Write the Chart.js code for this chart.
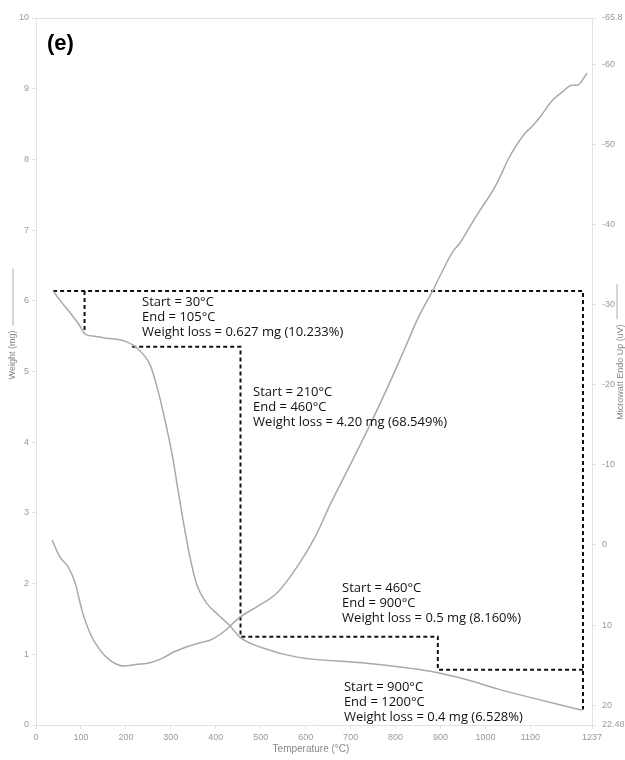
<!DOCTYPE html>
<html>
<head>
<meta charset="utf-8">
<script src="https://cdn.jsdelivr.net/npm/chart.js@4.4.1/dist/chart.umd.min.js"></script>
<style>
  body { margin: 0; background: #fff; }
  #wrap { width: 625px; height: 760px; position: relative; }
</style>
</head>
<body>
<div id="wrap"><canvas id="myChart"></canvas></div>
<script>
// TGA weight curve (left axis, mg)
const tempWeight = [38, 53, 76, 98, 109, 131, 158, 187, 202, 225, 254, 271, 287, 303, 316, 329, 343, 358, 380, 405, 432, 454, 505, 581, 727, 877, 959, 1032, 1106, 1215];
const weightMg   = [6.14, 6.01, 5.83, 5.64, 5.53, 5.50, 5.47, 5.45, 5.42, 5.33, 5.09, 4.74, 4.31, 3.82, 3.32, 2.83, 2.36, 1.98, 1.72, 1.56, 1.40, 1.24, 1.09, 0.96, 0.88, 0.76, 0.64, 0.50, 0.38, 0.21];

// DSC curve (right axis, uV, reversed)
const tempDsc = [36, 53, 71, 87, 102, 120, 142, 165, 194, 225, 254, 283, 305, 336, 365, 387, 416, 454, 492, 536, 587, 621, 654, 699, 743, 788, 821, 848, 883, 926, 943, 970, 988, 1017, 1037, 1050, 1088, 1106, 1121, 1150, 1172, 1192, 1204, 1226];
const dscUv   = [-0.6, 1.5, 2.7, 4.7, 8.1, 11.0, 13.1, 14.4, 15.1, 14.9, 14.7, 14.1, 13.4, 12.7, 12.2, 11.9, 10.9, 9.0, 7.7, 6.0, 2.2, -1.0, -5.0, -10.0, -15.0, -20.4, -24.6, -28.1, -31.8, -36.5, -37.7, -40.2, -41.8, -44.3, -46.5, -48.1, -51.4, -52.4, -53.4, -55.6, -56.6, -57.4, -57.4, -58.9];

// dashed step markers (temperature, weight)
const boxTemps = [38, 1217, 1217];
const boxWeights = [6.14, 6.14, 0.22];
const firstStepTemps = [108, 108];
const firstStepWeights = [6.14, 5.54];
const stairTemps = [214, 455, 455, 894, 894, 1217];
const stairWeights = [5.35, 5.35, 1.25, 1.25, 0.78, 0.78];

// annotation blocks, anchored at (temperature, weight)
const noteTemps = [236, 483, 681, 685];
const noteWeights = [5.98, 4.71, 1.94, 0.54];
const noteTexts = [
  ['Start = 30°C', 'End = 105°C', 'Weight loss = 0.627 mg (10.233%)'],
  ['Start = 210°C', 'End = 460°C', 'Weight loss = 4.20 mg (68.549%)'],
  ['Start = 460°C', 'End = 900°C', 'Weight loss = 0.5 mg (8.160%)'],
  ['Start = 900°C', 'End = 1200°C', 'Weight loss = 0.4 mg (6.528%)']
];

// axis ticks
const tempTicks = [0, 100, 200, 300, 400, 500, 600, 700, 800, 900, 1000, 1100, 1237];
const weightTicks = [0, 1, 2, 3, 4, 5, 6, 7, 8, 9, 10];
const dscTicks = [-65.8, -60, -50, -40, -30, -20, -10, 0, 10, 20, 22.48];

function pts(xs, ys) {
  return xs.map((x, i) => ({ x: x, y: ys[i] }));
}

const curveColor = '#a9a9a9';
const tickColor = '#999';
const axisColor = '#e2e2e2';

function dashed(xs, ys) {
  return {
    data: pts(xs, ys),
    yAxisID: 'y',
    borderColor: '#111',
    borderWidth: 2,
    borderDash: [4, 3],
    pointRadius: 0,
    fill: false,
    tension: 0
  };
}

const overlay = {
  id: 'overlay',
  afterDatasetsDraw(chart) {
    const ctx = chart.ctx;
    const xs = chart.scales.x, ys = chart.scales.y;
    ctx.save();
    ctx.fillStyle = '#111';
    ctx.font = '13px "Open Sans"';
    ctx.textBaseline = 'middle';
    ctx.textAlign = 'left';
    noteTexts.forEach((lines, i) => {
      const px = xs.getPixelForValue(noteTemps[i]);
      const py = ys.getPixelForValue(noteWeights[i]);
      lines.forEach((t, j) => ctx.fillText(t, px, py + j * 15));
    });
    ctx.restore();
  },
  afterDraw(chart) {
    const ctx = chart.ctx;
    const a = chart.chartArea;
    ctx.save();
    // top frame line
    ctx.strokeStyle = axisColor;
    ctx.lineWidth = 1;
    ctx.beginPath();
    ctx.moveTo(a.left, a.top + 0.5);
    ctx.lineTo(a.right, a.top + 0.5);
    ctx.stroke();

    ctx.fillStyle = '#888';
    ctx.strokeStyle = '#aaa';
    ctx.font = '9px "Liberation Sans"';
    ctx.textBaseline = 'middle';

    // left axis title with legend line
    ctx.save();
    ctx.translate(13, 355);
    ctx.rotate(-Math.PI / 2);
    ctx.textAlign = 'center';
    ctx.fillText('Weight (mg)', 0, 0);
    let w = ctx.measureText('Weight (mg)').width;
    ctx.beginPath();
    ctx.moveTo(w / 2 + 5, 0);
    ctx.lineTo(w / 2 + 62, 0);
    ctx.stroke();
    ctx.restore();

    // right axis title with legend line
    ctx.save();
    ctx.translate(621, 372);
    ctx.rotate(-Math.PI / 2);
    ctx.textAlign = 'center';
    ctx.fillText('Microwatt Endo Up (uV)', 0, 0);
    w = ctx.measureText('Microwatt Endo Up (uV)').width;
    ctx.beginPath();
    ctx.moveTo(w / 2 + 5, -4);
    ctx.lineTo(w / 2 + 40, -4);
    ctx.stroke();
    ctx.restore();

    // x axis title
    ctx.textAlign = 'center';
    ctx.font = '10px "Liberation Sans"';
    ctx.fillText('Temperature (°C)', (a.left + a.right) / 2 - 3, 749);

    // panel label
    ctx.fillStyle = '#000';
    ctx.font = 'bold 22px "Liberation Sans"';
    ctx.textAlign = 'left';
    ctx.textBaseline = 'alphabetic';
    ctx.fillText('(e)', 47, 50);
    ctx.restore();
  }
};

function fixTicks(values) {
  return function (scale) {
    scale.ticks = values.map(v => ({ value: v }));
  };
}

const tickFont = { family: 'Liberation Sans', size: 9 };

new Chart(document.getElementById('myChart').getContext('2d'), {
  type: 'line',
  data: {
    datasets: [
      {
        data: pts(tempWeight, weightMg),
        yAxisID: 'y',
        borderColor: curveColor,
        borderWidth: 1.5,
        pointRadius: 0,
        cubicInterpolationMode: 'monotone'
      },
      {
        data: pts(tempDsc, dscUv),
        yAxisID: 'y2',
        borderColor: curveColor,
        borderWidth: 1.5,
        pointRadius: 0,
        cubicInterpolationMode: 'monotone'
      },
      dashed(boxTemps, boxWeights),
      dashed(firstStepTemps, firstStepWeights),
      dashed(stairTemps, stairWeights)
    ]
  },
  options: {
    responsive: true,
    maintainAspectRatio: false,
    animation: false,
    layout: { padding: { top: 18, left: 0, right: 0, bottom: 0 } },
    plugins: { legend: { display: false }, tooltip: { enabled: false } },
    scales: {
      x: {
        type: 'linear',
        min: 0,
        max: 1237,
        afterBuildTicks: fixTicks(tempTicks),
        afterFit: s => { s.height = 35; },
        grid: { drawOnChartArea: false, color: axisColor, tickLength: 4 },
        border: { color: axisColor },
        ticks: {
          autoSkip: false, maxRotation: 0, padding: 3,
          color: tickColor, font: tickFont,
          callback: v => String(v)
        }
      },
      y: {
        position: 'left',
        min: 0,
        max: 10,
        afterBuildTicks: fixTicks(weightTicks),
        afterFit: s => { s.width = 36; },
        grid: { drawOnChartArea: false, color: axisColor, tickLength: 4 },
        border: { color: axisColor },
        ticks: {
          autoSkip: false, padding: 3,
          color: tickColor, font: tickFont,
          callback: v => String(v)
        }
      },
      y2: {
        position: 'right',
        reverse: true,
        min: -65.8,
        max: 22.48,
        afterBuildTicks: fixTicks(dscTicks),
        afterFit: s => { s.width = 33; },
        grid: { drawOnChartArea: false, color: axisColor, tickLength: 4 },
        border: { color: axisColor },
        ticks: {
          autoSkip: false, padding: 6,
          color: tickColor, font: tickFont,
          callback: v => String(v)
        }
      }
    }
  },
  plugins: [overlay]
});
</script>
</body>
</html>
